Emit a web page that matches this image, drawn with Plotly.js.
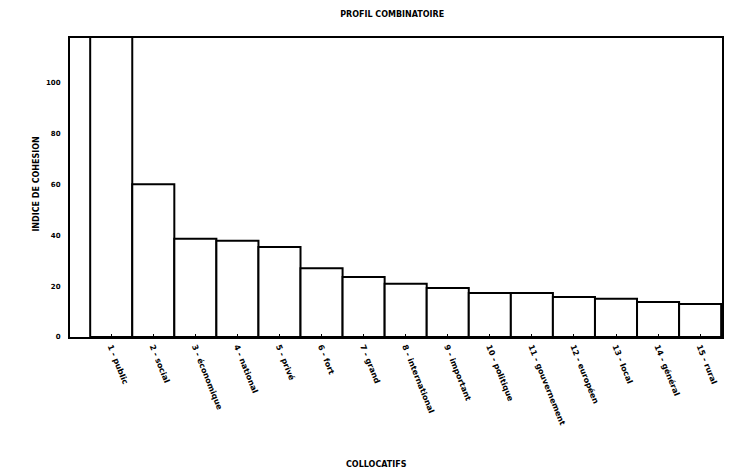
<!DOCTYPE html>
<html>
<head>
<meta charset="utf-8">
<script src="https://cdn.plot.ly/plotly-3.0.1.min.js"></script>
<style>html,body{margin:0;padding:0;background:#fff;}#chart{width:733px;height:476px;}</style>
</head>
<body>
<div id="chart"></div>
<script>
const collocatifs = ["1 - public", "2 - social", "3 - économique", "4 - national", "5 - privé",
  "6 - fort", "7 - grand", "8 - international", "9 - important", "10 - politique",
  "11 - gouvernement", "12 - européen", "13 - local", "14 - général", "15 - rural"];
const indices = [125, 60, 38.6, 37.8, 35.4, 27, 23.6, 20.9, 19.3, 17.3, 17.3, 15.7, 15, 13.8, 13];
const yTicks = [0, 20, 40, 60, 80, 100];

const trace = {
  type: 'bar',
  x: collocatifs.map((_, i) => i),
  y: indices,
  marker: {color: '#ffffff', line: {color: '#000000', width: 2}},
  hoverinfo: 'skip'
};

const fam = 'DejaVu Sans, Arial, sans-serif';

const layout = {
  width: 733, height: 476,
  margin: {l: 70, r: 11, t: 38, b: 139},
  paper_bgcolor: '#fff', plot_bgcolor: '#fff',
  showlegend: false,
  bargap: 0,
  title: {text: '<b>PROFIL COMBINATOIRE</b>', x: 0.535, xanchor: 'center', y: 0.97, yanchor: 'middle',
          font: {family: fam, size: 8, color: '#000'}},
  xaxis: {
    range: [-0.98, 14.52],
    tickvals: collocatifs.map((_, i) => i),
    ticktext: collocatifs.map(s => '<b>' + s + '</b>'),
    tickangle: 68,
    tickfont: {family: fam, size: 8, color: '#000'},
    showline: true, linecolor: '#000', linewidth: 2, mirror: true,
    showgrid: false, zeroline: false,
    ticks: 'inside', ticklen: 3, tickcolor: '#000'
  },
  yaxis: {
    range: [0, 117.5],
    tickvals: yTicks,
    ticktext: yTicks.map(v => '<b>' + v + '</b>'),
    tickfont: {family: fam, size: 7, color: '#000'},
    showline: true, linecolor: '#000', linewidth: 2, mirror: true,
    showgrid: false, zeroline: false,
    ticks: '', ticklabelstandoff: 6
  },
  annotations: [
    {text: '<b>COLLOCATIFS</b>', xref: 'paper', yref: 'paper', x: 0.47, y: -0.425,
     xanchor: 'center', yanchor: 'middle', showarrow: false, font: {family: fam, size: 8, color: '#000'}},
    {text: '<b>INDICE DE COHESION</b>', xref: 'paper', yref: 'paper', x: -0.052, y: 0.51,
     xanchor: 'center', yanchor: 'middle', textangle: -90, showarrow: false,
     font: {family: fam, size: 8, color: '#000'}}
  ]
};

Plotly.newPlot('chart', [trace], layout, {staticPlot: true, displayModeBar: false});
</script>
</body>
</html>
